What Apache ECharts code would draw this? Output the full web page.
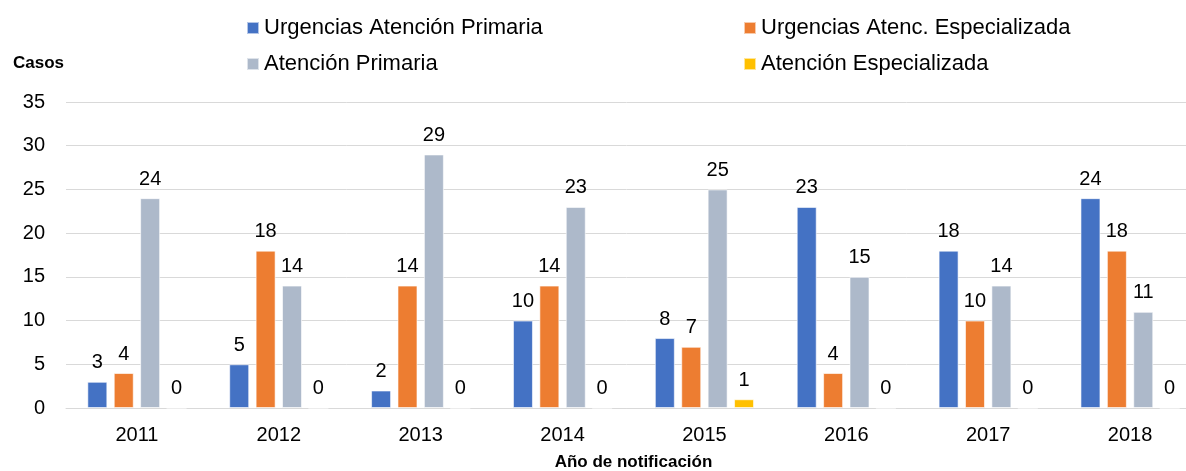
<!DOCTYPE html>
<html>
<head>
<meta charset="UTF-8">
<title>Casos por año de notificación</title>
<script src="https://cdn.jsdelivr.net/npm/echarts@6/dist/echarts.min.js"></script>
<style>
  html, body { margin: 0; padding: 0; background: #fff; }
  #chart { width: 1186px; height: 471px; }
</style>
</head>
<body>
<div id="chart"></div>
<script>
// años (categorías)
var years = ['2011', '2012', '2013', '2014', '2015', '2016', '2017', '2018'];

// series
var urgenciasAP = [3, 5, 2, 10, 8, 23, 18, 24];
var urgenciasAE = [4, 18, 14, 14, 7, 4, 10, 18];
var atencionAP  = [24, 14, 29, 23, 25, 15, 14, 11];
var atencionAE  = [0, 0, 0, 0, 1, 0, 0, 0];

var seriesNames = [
  'Urgencias Atención Primaria',
  'Urgencias Atenc. Especializada',
  'Atención Primaria',
  'Atención Especializada'
];
var colors = ['#4472C4', '#ED7D31', '#ADB9CA', '#FFC000'];

var font = 'Liberation Sans, Arial, sans-serif';

function makeSeries(name, data, color) {
  return {
    name: name,
    type: 'bar',
    data: data,
    barWidth: 20,
    barGap: '32%',
    itemStyle: { color: color, borderColor: 'rgba(255,255,255,0.6)', borderWidth: 1 },
    label: {
      show: true,
      position: 'top',
      distance: 9,
      color: '#000',
      fontSize: 20,
      fontFamily: font
    }
  };
}

var myChart = echarts.init(document.getElementById('chart'));

// leyenda en dos columnas
function legendBox(left, names) {
  return {
    left: left,
    top: 17,
    padding: 0,
    orient: 'vertical',
    itemWidth: 12,
    itemHeight: 12,
    itemGap: 14,
    icon: 'rect',
    data: names,
    textStyle: { fontSize: 22, color: '#000', fontFamily: font }
  };
}

var option = {
  animation: false,
  color: colors,
  textStyle: { fontFamily: font },
  title: {
    text: 'Casos',
    left: 13,
    top: 55,
    padding: 0,
    textStyle: { fontSize: 17, fontWeight: 'bold', color: '#000', fontFamily: font }
  },
  legend: [
    legendBox(246, [seriesNames[0], seriesNames[2]]),
    legendBox(743, [seriesNames[1], seriesNames[3]])
  ],
  grid: { left: 66, right: -15, top: 102, bottom: 63, containLabel: false, outerBoundsMode: 'none' },
  xAxis: {
    type: 'category',
    data: years,
    name: 'Año de notificación',
    nameLocation: 'middle',
    nameGap: 46,
    nameTextStyle: { fontSize: 17, fontWeight: 'bold', color: '#000', fontFamily: font },
    axisLine: { show: true, lineStyle: { color: '#d9d9d9', width: 1 } },
    axisTick: { show: false },
    axisLabel: { fontSize: 20, color: '#000', margin: 17, fontFamily: font }
  },
  yAxis: {
    type: 'value',
    min: 0,
    max: 35,
    interval: 5,
    axisLine: { show: false },
    axisTick: { show: false },
    axisLabel: { fontSize: 20, color: '#000', margin: 21, fontFamily: font },
    splitLine: { lineStyle: { color: '#d9d9d9', width: 1 } }
  },
  series: [
    makeSeries(seriesNames[0], urgenciasAP, colors[0]),
    makeSeries(seriesNames[1], urgenciasAE, colors[1]),
    makeSeries(seriesNames[2], atencionAP, colors[2]),
    makeSeries(seriesNames[3], atencionAE, colors[3])
  ]
};

myChart.setOption(option);
</script>
</body>
</html>
